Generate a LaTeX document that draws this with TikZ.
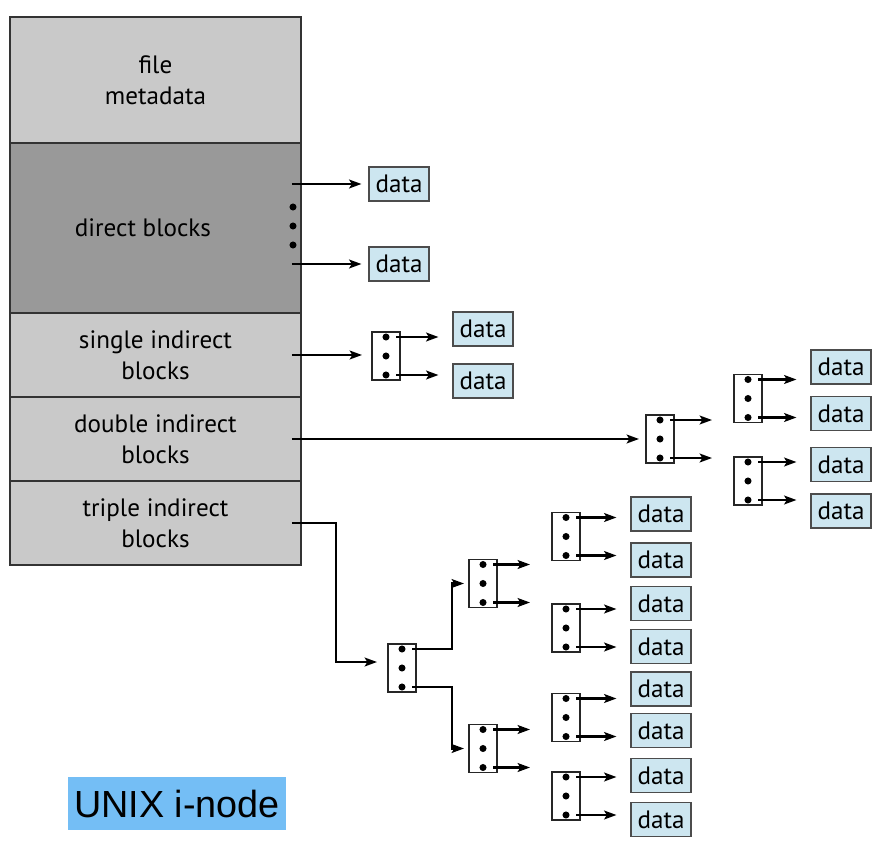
\documentclass[tikz,border=0pt]{standalone}
\usepackage{fontspec}
\setmainfont{PT Sans}
\newfontfamily\tagfont{Liberation Sans}
\usetikzlibrary{calc,arrows.meta}

\definecolor{metagray}{RGB}{201,201,201}
\definecolor{directgray}{RGB}{153,153,153}
\definecolor{datablue}{RGB}{205,230,240}
\definecolor{tagblue}{RGB}{116,190,245}

\begin{document}
\begin{tikzpicture}[%
x=0.02cm, y=-0.02cm,
>={Stealth[length=7pt,width=5pt,inset=1.5pt]},
font=\fontsize{14.3}{17.6}\selectfont,
row/.style={draw=black!80, line width=0.8pt, anchor=north west,
  minimum width=5.82cm, inner sep=0pt, outer sep=0pt, align=center},
datum/.style={draw=black!70, fill=datablue, line width=0.6pt,
  minimum width=1.2cm, minimum height=0.68cm, inner sep=0pt},
iblock/.style={draw=black!85, fill=white, line width=0.8pt,
  minimum width=0.56cm, minimum height=0.96cm, inner sep=0pt, outer sep=0pt},
ptr/.style={->, line width=1.3pt},
todata/.style={ptr, shorten <=0.2cm, shorten >=0.28cm},
tonext/.style={ptr, shorten <=0.2cm, shorten >=0.44cm}
]

\useasboundingbox (0,0) rectangle (892,858);

% the i-node itself
\node[row, fill=metagray, minimum height=2.52cm] (meta) at (10,17) {file\\metadata};
\node[row, fill=directgray, minimum height=3.4cm] (direct) at (10,143) {\hspace*{-0.5cm}direct blocks};
\node[row, fill=metagray, minimum height=1.68cm] (single) at (10,313) {single indirect\\blocks};
\node[row, fill=metagray, minimum height=1.68cm] (double) at (10,397) {double indirect\\blocks};
\node[row, fill=metagray, minimum height=1.68cm] (triple) at (10,481) {triple indirect\\blocks};

\coordinate (dE) at ([xshift=-0.18cm]direct.east);
\coordinate (sE) at ([xshift=-0.18cm]single.east);
\coordinate (wE) at ([xshift=-0.18cm]double.east);
\coordinate (tE) at ([xshift=-0.18cm]triple.east);

% data blocks
\node[datum] (dd1) at (399,184) {data};
\node[datum] (dd2) at (399,264) {data};
\node[datum] (sd1) at (483,329) {data};
\node[datum] (sd2) at (483,381) {data};
\node[datum] (wd1) at (841,367) {data};
\node[datum] (wd2) at (841,413.5) {data};
\node[datum] (wd3) at (841,464.5) {data};
\node[datum] (wd4) at (841,511) {data};
\node[datum] (td1) at (661,514) {data};
\node[datum] (td2) at (661,560) {data};
\node[datum] (td3) at (661,603.5) {data};
\node[datum] (td4) at (661,646.5) {data};
\node[datum] (td5) at (661,689) {data};
\node[datum] (td6) at (661,730.5) {data};
\node[datum] (td7) at (661,775.5) {data};
\node[datum] (td8) at (661,819.5) {data};

% index blocks
\node[iblock] (si) at (386,356) {};
\node[iblock] (wi) at (660,439) {};
\node[iblock] (wa) at (748,398.5) {};
\node[iblock] (wb) at (748,481) {};
\node[iblock] (ti) at (402,668) {};
\node[iblock] (ta) at (483,583.5) {};
\node[iblock] (tb) at (483,748.5) {};
\node[iblock] (taa) at (566,536.5) {};
\node[iblock] (tab) at (566,628) {};
\node[iblock] (tba) at (566,717.5) {};
\node[iblock] (tbb) at (566,796) {};

\foreach \b in {si,wi,wa,wb,ti,ta,tb,taa,tab,tba,tbb} {
  \coordinate (\b-1) at ($(\b)+(0,-19)$);
  \coordinate (\b-3) at ($(\b)+(0,19)$);
  \foreach \d in {-19,0,19}
    \fill ($(\b)+(0,\d)$) circle (2pt);
}

% direct
\foreach \y in {207,226,245}
  \fill (293,\y) circle (2pt);
\draw[ptr, shorten >=0.14cm] (dE |- dd1.west) -- (dd1.west);
\draw[ptr, shorten >=0.14cm] (dE |- dd2.west) -- (dd2.west);

% single indirect
\draw[ptr, shorten >=0.2cm] (sE) -- (sE -| si.west);
\draw[todata] (si-1) -- (si-1 -| sd1.west);
\draw[todata] (si-3) -- (si-3 -| sd2.west);

% double indirect
\draw[ptr, shorten >=0.14cm] (wE) -- (wE -| wi.west);
\draw[tonext] (wi-1) -- (wi-1 -| wa.west);
\draw[tonext] (wi-3) -- (wi-3 -| wa.west);
\draw[todata] (wa-1) -- (wa-1 -| wd1.west);
\draw[todata] (wa-3) -- (wa-3 -| wd2.west);
\draw[todata] (wb-1) -- (wb-1 -| wd3.west);
\draw[todata] (wb-3) -- (wb-3 -| wd4.west);

% triple indirect
\coordinate (tbend) at (336,0);
\coordinate (tjoin) at (452,0);
\draw[ptr, shorten >=0.22cm] (tE) -- (tE -| tbend) |- ([yshift=0.12cm]ti.west);
\draw[ptr, shorten <=0.2cm, shorten >=0.1cm] (ti-1) -- (ti-1 -| tjoin) |- (ta.west);
\draw[ptr, shorten <=0.2cm, shorten >=0.1cm] (ti-3) -- (ti-3 -| tjoin) |- (tb.west);
\draw[tonext] (ta-1) -- (ta-1 -| taa.west);
\draw[tonext] (ta-3) -- (ta-3 -| taa.west);
\draw[tonext] (tb-1) -- (tb-1 -| tba.west);
\draw[tonext] (tb-3) -- (tb-3 -| tba.west);
\draw[todata] (taa-1) -- (taa-1 -| td1.west);
\draw[todata] (taa-3) -- (taa-3 -| td2.west);
\draw[todata] (tab-1) -- (tab-1 -| td3.west);
\draw[todata] (tab-3) -- (tab-3 -| td4.west);
\draw[todata] (tba-1) -- (tba-1 -| td5.west);
\draw[todata] (tba-3) -- (tba-3 -| td6.west);
\draw[todata] (tbb-1) -- (tbb-1 -| td7.west);
\draw[todata] (tbb-3) -- (tbb-3 -| td8.west);

% caption tag
\node[fill=tagblue, minimum width=4.36cm, minimum height=1.06cm, inner sep=0pt,
  font=\tagfont\fontsize{21.5}{24}\selectfont] (tag) at (177,803.5) {UNIX i-node};

\end{tikzpicture}
\end{document}
